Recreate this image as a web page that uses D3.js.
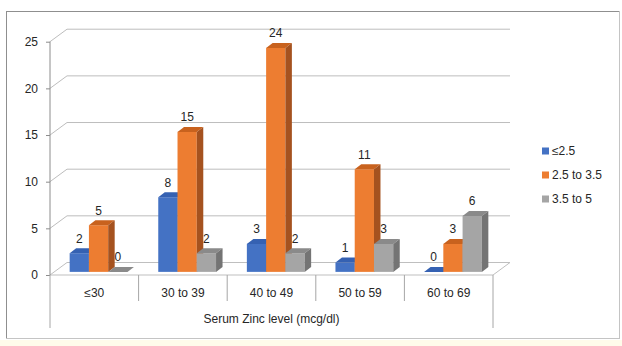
<!DOCTYPE html>
<html>
<head>
<meta charset="utf-8">
<script src="https://cdn.jsdelivr.net/npm/d3@7"></script>
<style>
  html, body { margin: 0; padding: 0; background: #fff; }
  svg { display: block; }
  text { font-family: "Liberation Sans", Arial, sans-serif; fill: #262626; }
</style>
</head>
<body>
<svg id="chart" width="622" height="346"></svg>
<script>
// ---- data ----
const categories = ["≤30", "30 to 39", "40 to 49", "50 to 59", "60 to 69"];
const seriesNames = ["≤2.5", "2.5 to 3.5", "3.5 to 5"];
const seriesLow = [2, 8, 3, 1, 0];
const seriesMid = [5, 15, 24, 11, 3];
const seriesHigh = [0, 2, 2, 3, 6];
const yTicks = [0, 5, 10, 15, 20, 25];
const axisTitle = "Serum Zinc level (mcg/dl)";

const seriesValues = [seriesLow, seriesMid, seriesHigh];
const colors = [
  { front: "#4472C4", top: "#3561B2", side: "#2F5597" },
  { front: "#ED7D31", top: "#C8621E", side: "#A5521F" },
  { front: "#A5A5A5", top: "#8A8A8A", side: "#747474" }
];

const svg = d3.select("#chart");

// background band below frame
svg.append("rect").attr("x", 0).attr("y", 340).attr("width", 622).attr("height", 6).attr("fill", "#FFFBEA");

// geometry
const DX = 17, DY = -12.5;       // wall depth
const BF = 0.25;                 // bar front depth fraction
const BDX = 6.5, BDY = -5;       // bar depth
const x = d3.scaleBand().domain(categories).range([50, 493]).paddingInner(0).paddingOuter(0);
const xs = d3.scaleBand().domain(seriesNames).range([0, x.bandwidth()]).paddingInner(0).paddingOuter(0.8);
const y = d3.scaleLinear().domain([0, 25]).range([275, 41.7]);
const x0 = 50, x1 = 493;

const grid = svg.append("g");
// back-wall gridlines + left wall diagonals
yTicks.forEach(t => {
  const yy = y(t);
  grid.append("path")
    .attr("d", `M${x0},${yy}L${x0 + DX},${yy + DY}L${x1 + DX},${yy + DY}`)
    .attr("fill", "none").attr("stroke", t === 0 ? "#BFBFBF" : "#BDBDBD").attr("stroke-width", 1);
});
// floor front and right edges
grid.append("path")
  .attr("d", `M${x0},${y(0)}L${x1},${y(0)}L${x1 + DX},${y(0) + DY}`)
  .attr("fill", "none").attr("stroke", "#BFBFBF").attr("stroke-width", 1);

// y axis line + ticks
const yAxis = d3.axisLeft(y).tickValues(yTicks).tickSize(4).tickPadding(8);
const yg = svg.append("g").attr("transform", `translate(${x0},0)`).call(yAxis);
yg.select(".domain").attr("stroke", "#8C8C8C").attr("d", `M0,${y(25)}V${y(0)}`);
yg.selectAll(".tick line").attr("stroke", "#8C8C8C");
yg.selectAll(".tick text").attr("font-size", 12).attr("fill", "#262626")
  .attr("font-family", "Liberation Sans, Arial, sans-serif");

// category dividers
const divs = d3.range(categories.length + 1).map(i => x0 + i * x.step());
svg.append("g").selectAll("line").data(divs).join("line")
  .attr("x1", d => d).attr("x2", d => d)
  .attr("y1", y(0))
  .attr("y2", (d, i) => (i === 0 || i === categories.length) ? 328 : 301)
  .attr("stroke", "#A6A6A6").attr("stroke-width", 1);

// category labels
svg.append("g").selectAll("text").data(categories).join("text")
  .attr("x", d => x(d) + x.bandwidth() / 2).attr("y", 297)
  .attr("text-anchor", "middle").attr("font-size", 12).text(d => d);

svg.append("text").attr("x", (x0 + x1) / 2).attr("y", 323)
  .attr("text-anchor", "middle").attr("font-size", 12).text(axisTitle);

// bars
const bars = svg.append("g");
const labels = svg.append("g");
categories.forEach((c, ci) => {
  seriesNames.forEach((s, si) => {
    const v = seriesValues[si][ci];
    const col = colors[si];
    const left = x(c) + xs(s) + BF * DX;
    const w = xs.bandwidth();
    const base = y(0) + BF * DY;
    const top = base - (y(0) - y(v));
    // front
    bars.append("rect").attr("x", left).attr("y", top).attr("width", w).attr("height", Math.max(0, base - top))
      .attr("fill", col.front);
    // top face
    bars.append("path")
      .attr("d", `M${left},${top}L${left + BDX},${top + BDY}L${left + w + BDX},${top + BDY}L${left + w},${top}Z`)
      .attr("fill", col.top);
    // side face
    bars.append("path")
      .attr("d", `M${left + w},${top}L${left + w + BDX},${top + BDY}L${left + w + BDX},${base + BDY}L${left + w},${base}Z`)
      .attr("fill", col.side);
    labels.append("text")
      .attr("x", left + w / 2).attr("y", top - 10.5)
      .attr("text-anchor", "middle").attr("font-size", 12).text(v);
  });
});

// legend
const lg = svg.append("g");
seriesNames.forEach((s, i) => {
  const cy = 151 + i * 24;
  lg.append("rect").attr("x", 542).attr("y", cy - 3.5).attr("width", 7).attr("height", 7).attr("fill", colors[i].front);
  lg.append("text").attr("x", 552).attr("y", cy + 4.3).attr("font-size", 12).text(s);
});

// outer frame
svg.append("line").attr("x1", 6).attr("y1", 11.5).attr("x2", 619.5).attr("y2", 11.5).attr("stroke", "#8F8F8F");
svg.append("line").attr("x1", 6.5).attr("y1", 11).attr("x2", 6.5).attr("y2", 338.5).attr("stroke", "#8F8F8F");
svg.append("line").attr("x1", 619.5).attr("y1", 11).attr("x2", 619.5).attr("y2", 338.5).attr("stroke", "#C4C4C4");
svg.append("line").attr("x1", 6).attr("y1", 338.5).attr("x2", 620).attr("y2", 338.5).attr("stroke", "#C4C4C4");
</script>
</body>
</html>
